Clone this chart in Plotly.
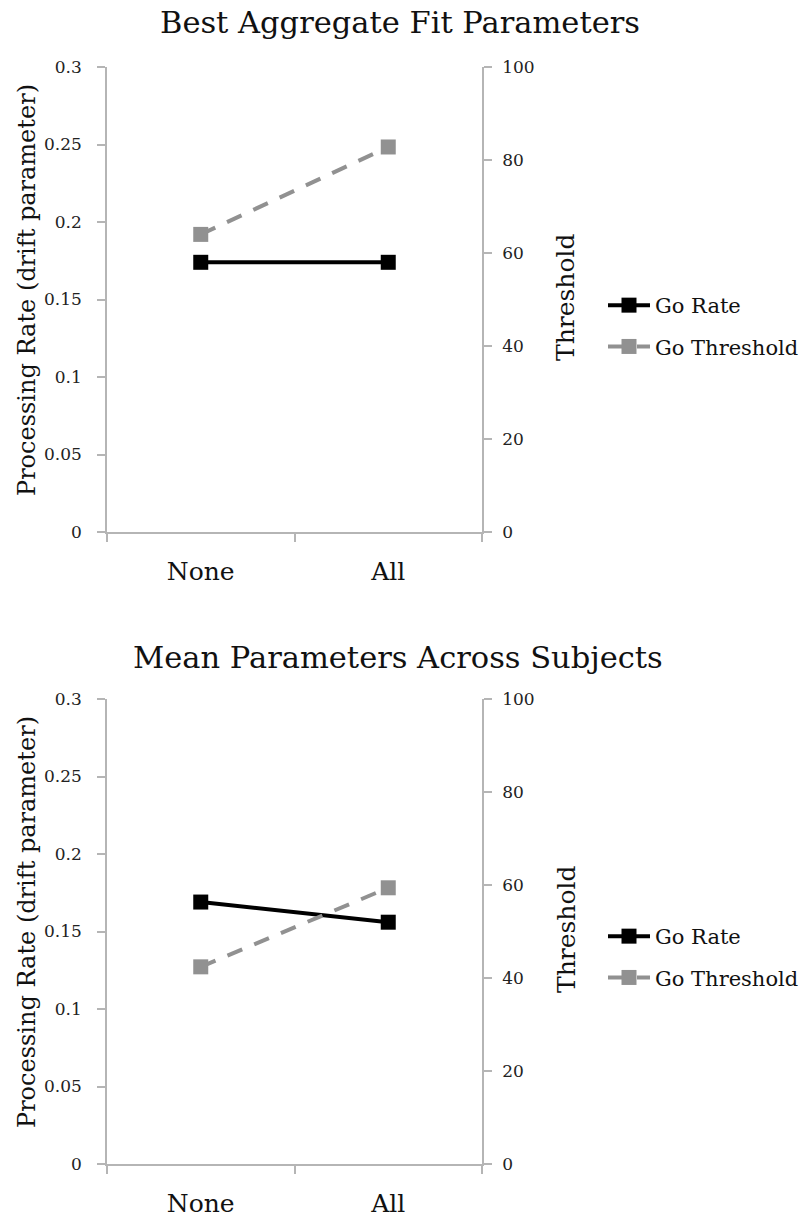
import plotly.graph_objects as go

categories = ["None", "All"]
top_rate = [0.174, 0.174]
top_threshold = [64.0, 82.8]
bottom_rate = [0.169, 0.156]
bottom_threshold = [42.4, 59.4]
rate_ticks = [0, 0.05, 0.1, 0.15, 0.2, 0.25, 0.3]
rate_ticktext = ["0", "0.05", "0.1", "0.15", "0.2", "0.25", "0.3"]
thr_ticks = [0, 20, 40, 60, 80, 100]
titles = ["Best Aggregate Fit Parameters", "Mean Parameters Across Subjects"]
left_title = "Processing Rate (drift parameter)"
right_title = "Threshold"

W, H = 801, 1221
FONT = "DejaVu Serif"
AX = "#b5b5b5"
BLACK = "#000000"
GRAY = "#919191"

def px(x):
    return x / W

def py(y):
    return 1 - y / H

fig = go.Figure()

for i, (rate, thr, leg) in enumerate([(top_rate, top_threshold, "legend"),
                                       (bottom_rate, bottom_threshold, "legend2")]):
    xa = "x" if i == 0 else "x2"
    ya_l = "y" if i == 0 else "y3"
    ya_r = "y2" if i == 0 else "y4"
    fig.add_trace(go.Scatter(
        x=categories, y=rate, xaxis=xa, yaxis=ya_l, name="Go Rate",
        mode="lines+markers", legend=leg, legendgroup="rate%d" % i,
        line=dict(color=BLACK, width=4),
        marker=dict(symbol="square", size=15, color=BLACK)))
    fig.add_trace(go.Scatter(
        x=categories, y=thr, xaxis=xa, yaxis=ya_r, name="Go Threshold",
        mode="lines+markers", legend=leg, legendgroup="thr%d" % i,
        line=dict(color=GRAY, width=4, dash="16px,13px"),
        marker=dict(symbol="square", size=15, color=GRAY)))

xdom = [px(107), px(482)]
doms = [[py(532), py(67)], [py(1164), py(699)]]

common_x = dict(domain=xdom, range=[-0.5, 1.5], type="category",
                tickson="boundaries", ticks="outside", ticklen=8,
                tickcolor=AX, tickwidth=1.5, showline=True, linecolor=AX,
                linewidth=1.5, showgrid=False, zeroline=False, automargin=False,
                tickfont=dict(family=FONT, size=25, color="#111111"),
                ticklabelstandoff=16)

def left_y(dom, anchor):
    return dict(domain=dom, range=[0, 0.3], tickvals=rate_ticks,
                ticktext=rate_ticktext, ticks="outside", ticklen=8,
                tickcolor=AX, tickwidth=1.5, showline=True, linecolor=AX,
                linewidth=1.5, showgrid=False, zeroline=False, anchor=anchor,
                automargin=False,
                tickfont=dict(family=FONT, size=17, color="#222222"),
                ticklabelstandoff=12)

def right_y(dom, anchor, overlay):
    return dict(domain=dom, range=[0, 100], tickvals=thr_ticks,
                ticks="outside", ticklen=8, side="right", overlaying=overlay,
                tickcolor=AX, tickwidth=1.5, showline=True, linecolor=AX,
                linewidth=1.5, showgrid=False, zeroline=False, anchor=anchor,
                automargin=False,
                tickfont=dict(family=FONT, size=17, color="#222222"),
                ticklabelstandoff=7)

legend_common = dict(font=dict(family=FONT, size=21, color="#111111"),
                     bgcolor="rgba(0,0,0,0)", xanchor="left", yanchor="middle",
                     itemwidth=42, tracegroupgap=11)

annotations = []
title_pos = [(400, 22), (398, 657)]
left_pos = [(27, 290), (27, 922)]
right_pos = [(566, 297), (566, 929)]
for i in range(2):
    annotations.append(dict(text=titles[i], x=px(title_pos[i][0]), y=py(title_pos[i][1]),
                            xref="paper", yref="paper", showarrow=False,
                            xanchor="center", yanchor="middle",
                            font=dict(family=FONT, size=30.5, color="#111111")))
    annotations.append(dict(text=left_title, x=px(left_pos[i][0]), y=py(left_pos[i][1]),
                            xref="paper", yref="paper", showarrow=False, textangle=-90,
                            xanchor="center", yanchor="middle",
                            font=dict(family=FONT, size=24, color="#111111")))
    annotations.append(dict(text=right_title, x=px(right_pos[i][0]), y=py(right_pos[i][1]),
                            xref="paper", yref="paper", showarrow=False, textangle=-90,
                            xanchor="center", yanchor="middle",
                            font=dict(family=FONT, size=25, color="#111111")))

fig.update_layout(
    width=W, height=H,
    margin=dict(l=0, r=0, t=0, b=0, autoexpand=False),
    paper_bgcolor="white", plot_bgcolor="white",
    showlegend=True,
    xaxis=dict(common_x, anchor="y"),
    xaxis2=dict(common_x, anchor="y3"),
    yaxis=left_y(doms[0], "x"),
    yaxis2=right_y(doms[0], "x", "y"),
    yaxis3=left_y(doms[1], "x2"),
    yaxis4=right_y(doms[1], "x2", "y3"),
    legend=dict(legend_common, x=px(603), y=py(326)),
    legend2=dict(legend_common, x=px(603), y=py(957)),
    annotations=annotations,
)

fig.write_html("out.html")
